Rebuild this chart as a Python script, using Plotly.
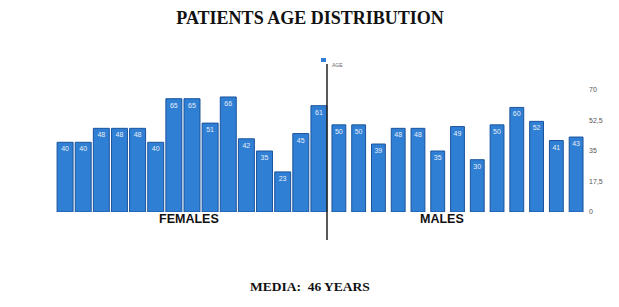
import plotly.graph_objects as go

female_ages = [40, 40, 48, 48, 48, 40, 65, 65, 51, 66, 42, 35, 23, 45, 61]
male_ages = [50, 50, 39, 48, 48, 35, 49, 30, 50, 60, 52, 41, 43]
y_tickvals = [0, 17.5, 35, 52.5, 70]
y_ticktext = ["0", "17,5", "35", "52,5", "70"]

OFF = 8  # page body margin
W, H = 619 - OFF, 307 - OFF
def px(x):
    return (x - OFF) / W
def py(y):
    return 1 - (y - OFF) / H

bar_color = "#2f7fd4"
edge_color = "#1b539c"

fig = go.Figure()
fig.add_trace(go.Bar(
    x=list(range(len(female_ages))), y=female_ages, name="AGE",
    marker=dict(color=bar_color, line=dict(color=edge_color, width=1)),
    text=[str(v) for v in female_ages], textposition="inside", insidetextanchor="end",
    textangle=0, textfont=dict(color="#e8eef7", size=7, family="Arial"),
    xaxis="x", yaxis="y", showlegend=False,
))
fig.add_trace(go.Bar(
    x=list(range(len(male_ages))), y=male_ages, name="AGE",
    marker=dict(color=bar_color, line=dict(color=edge_color, width=1)),
    text=[str(v) for v in male_ages], textposition="inside", insidetextanchor="end",
    textangle=0, textfont=dict(color="#e8eef7", size=7, family="Arial"),
    xaxis="x2", yaxis="y2", showlegend=False,
))

ydom = [py(212), py(90)]
fig.update_layout(
    width=W, height=H, margin=dict(l=0, r=0, t=0, b=0, autoexpand=False),
    paper_bgcolor="white", plot_bgcolor="rgba(0,0,0,0)",
    bargap=0.12,
    uniformtext=dict(minsize=7, mode="show"),
    xaxis=dict(domain=[px(56), px(328)], range=[-0.5, len(female_ages) - 0.5],
               showticklabels=False, showgrid=False, zeroline=False),
    xaxis2=dict(domain=[px(329), px(586)], range=[-0.5, len(male_ages) - 0.5],
                showticklabels=False, showgrid=False, zeroline=False, anchor="y2"),
    yaxis=dict(domain=ydom, range=[0, 70], showgrid=False, zeroline=False,
               showticklabels=False),
    yaxis2=dict(domain=ydom, range=[0, 70], showgrid=False, zeroline=False,
                anchor="x2", side="right", tickvals=y_tickvals, ticktext=y_ticktext,
                tickfont=dict(size=7, color="#555", family="Arial"), ticks="",
                ticklabelstandoff=2),
    showlegend=False,
    title=dict(text="<b>PATIENTS AGE DISTRIBUTION</b>", x=px(310), xanchor="center",
               xref="paper", y=py(18), yanchor="middle",
               font=dict(family="Liberation Serif", size=18, color="#111")),
    shapes=[
        dict(type="line", xref="paper", yref="paper", x0=px(327), x1=px(327),
             y0=py(64), y1=py(240), line=dict(color="#222", width=1.5)),
        dict(type="rect", xref="paper", yref="paper", x0=px(321), x1=px(326),
             y0=py(62), y1=py(58), fillcolor=bar_color, line=dict(width=0)),
    ],
    annotations=[
        dict(text="AGE", x=px(330), y=py(60), xref="paper", yref="paper", xanchor="left",
             showarrow=False, font=dict(family="Arial", size=5, color="#666")),
        dict(text="<b>FEMALES</b>", x=px(189), y=py(228), xref="paper", yref="paper",
             xanchor="center", showarrow=False,
             font=dict(family="Arial", size=12.5, color="#111")),
        dict(text="<b>MALES</b>", x=px(442), y=py(228), xref="paper", yref="paper",
             xanchor="center", showarrow=False,
             font=dict(family="Arial", size=12.5, color="#111")),
        dict(text="<b>MEDIA:  46 YEARS</b>", x=px(310), y=py(296), xref="paper", yref="paper",
             xanchor="center", showarrow=False,
             font=dict(family="Liberation Serif", size=13.5, color="#111")),
    ],
)
fig.update_traces(selector=dict(xaxis="x2"), width=0.7)
fig.write_html("out.html")
